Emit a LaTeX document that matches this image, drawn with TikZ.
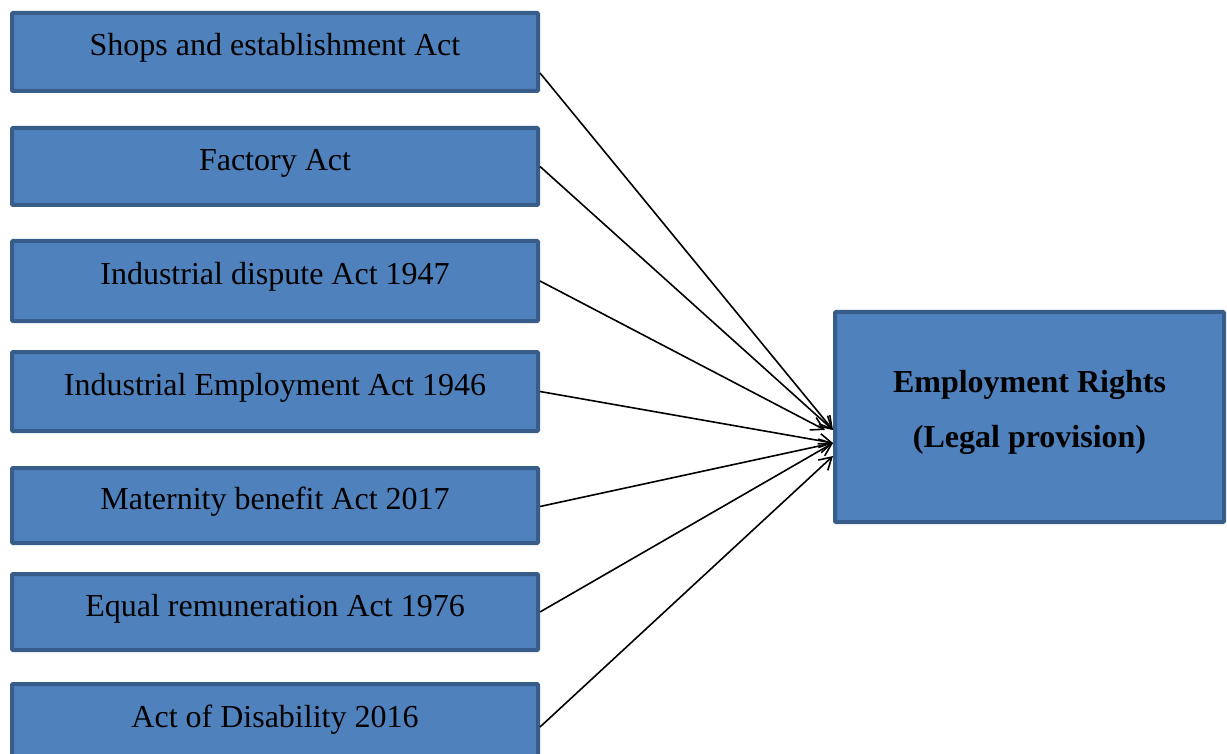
\documentclass[tikz,border=0pt]{standalone}
\usepackage{fontspec}
\setmainfont{Liberation Serif}
\usepackage{xcolor}
\usetikzlibrary{arrows.meta}

\definecolor{boxfill}{HTML}{4F81BD}
\definecolor{boxline}{HTML}{385D8A}

\begin{document}
\begin{tikzpicture}[x=1pt, y=-1pt,
  panel/.style = {draw=boxline, fill=boxfill, line width=4pt, rounded corners=1pt, inner sep=0pt},
  actbox/.style = {panel, minimum width=526pt, text height=24pt, text depth=16pt,
    font=\fontsize{32pt}{38pt}\selectfont},
  link/.style = {line width=1.6pt, -{Straight Barb[length=12pt,width=14pt]}}]

  \useasboundingbox (0,0) rectangle (1227,754);

  % The acts on the left
  \node[actbox, minimum height=78pt] (shops) at (275,52) {Shops and establishment Act};
  \node[actbox, minimum height=77pt] (factory) at (275,166.5) {Factory Act};
  \node[actbox, minimum height=80pt] (dispute) at (275,281) {Industrial dispute Act 1947};
  \node[actbox, minimum height=79pt] (employ) at (275,391.5) {Industrial Employment Act 1946};
  \node[actbox, minimum height=75pt] (maternity) at (275,505.5) {Maternity benefit Act 2017};
  \node[actbox, minimum height=76pt] (equal) at (275,612) {Equal remuneration Act 1976};
  \node[actbox, minimum height=78pt] (disability) at (275,723) {Act of Disability 2016};

  % The rights box on the right
  \node[panel, minimum width=389pt, minimum height=210pt, align=center, text depth=17pt,
    font=\bfseries\fontsize{32pt}{55pt}\selectfont] (rights) at (1029.5,417)
    {Employment Rights\\(Legal provision)};

  % Where the arrows meet
  \coordinate (top) at ([yshift=-13pt]rights.west);
  \coordinate (mid) at ([yshift=-26pt]rights.west);
  \coordinate (low) at ([yshift=-39pt]rights.west);

  % Arrows
  \draw[link] ([yshift=-21pt]shops.east) -- (top);
  \draw[link] (factory.east) -- (top);
  \draw[link] (dispute.east) -- ([xshift=-8pt]top);
  \draw[link] (employ.east) -- (mid);
  \draw[link] ([yshift=-1pt]maternity.east) -- (mid);
  \draw[link] (equal.east) -- (mid);
  \draw[link] ([yshift=-4pt]disability.east) -- (low);

\end{tikzpicture}
\end{document}
